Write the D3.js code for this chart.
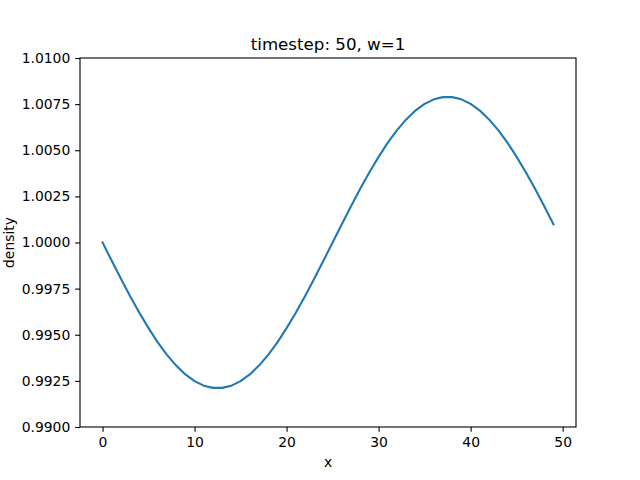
<!DOCTYPE html>
<html>
<head>
<meta charset="utf-8">
<script src="https://cdn.jsdelivr.net/npm/d3@7"></script>
<style>
  body { margin: 0; background: #fff; }
  svg { display: block; font-family: "DejaVu Sans", sans-serif; }
</style>
</head>
<body>
<svg id="chart" width="640" height="480"></svg>
<script>
const xValues = d3.range(0, 50);
const density = [
  1.00000, 0.99901, 0.99804, 0.99709, 0.99619, 0.99536, 0.99459, 0.99391, 0.99333, 0.99285,
  0.99249, 0.99224, 0.99212, 0.99212, 0.99224, 0.99249, 0.99285, 0.99333, 0.99391, 0.99459,
  0.99536, 0.99619, 0.99709, 0.99804, 0.99901, 1.00000, 1.00099, 1.00196, 1.00291, 1.00381,
  1.00464, 1.00541, 1.00609, 1.00667, 1.00715, 1.00751, 1.00776, 1.00788, 1.00788, 1.00776,
  1.00751, 1.00715, 1.00667, 1.00609, 1.00541, 1.00464, 1.00381, 1.00291, 1.00196, 1.00099
];
const xTicks = [0, 10, 20, 30, 40, 50];
const yTicks = [0.9900, 0.9925, 0.9950, 0.9975, 1.0000, 1.0025, 1.0050, 1.0075, 1.0100];
const titleText = "timestep: 50, w=1";
const xLabel = "x";
const yLabel = "density";

const svg = d3.select("#chart");
const L = 80, R = 576, T = 58, B = 427;
const tickLen = 4.86, tickPad = 4.86;

const x = d3.scaleLinear().domain([-2.45, 51.45]).range([L, R]);
const y = d3.scaleLinear().domain([0.99, 1.01]).range([B, T]);

// line
const line = d3.line().x((d, i) => x(xValues[i])).y(d => y(d));
svg.append("path")
  .datum(density)
  .attr("d", line)
  .attr("fill", "none")
  .attr("stroke", "#1f77b4")
  .attr("stroke-width", 2.08)
  .attr("stroke-linejoin", "round")
  .attr("stroke-linecap", "square");

// axes
const xAxis = d3.axisBottom(x).tickValues(xTicks).tickFormat(d3.format("d"))
  .tickSizeInner(tickLen).tickSizeOuter(0).tickPadding(tickPad);
const yAxis = d3.axisLeft(y).tickValues(yTicks).tickFormat(d3.format(".4f"))
  .tickSizeInner(tickLen).tickSizeOuter(0).tickPadding(tickPad);

const gx = svg.append("g").attr("transform", `translate(0,${B})`).call(xAxis);
const gy = svg.append("g").attr("transform", `translate(${L},0)`).call(yAxis);
[gx, gy].forEach(g => {
  g.select(".domain").remove();
  g.selectAll(".tick line").attr("stroke", "#000").attr("stroke-width", 1.1);
  g.selectAll(".tick text").attr("fill", "#000").style("font-size", "13.9px")
    .style("font-family", "'DejaVu Sans', sans-serif");
});
gx.selectAll(".tick text").attr("dy", "0.76em");

// frame
svg.append("rect")
  .attr("x", L).attr("y", T).attr("width", R - L).attr("height", B - T)
  .attr("fill", "none").attr("stroke", "#000").attr("stroke-width", 1.1);

// title
svg.append("text")
  .attr("x", (L + R) / 2).attr("y", 49.5)
  .attr("text-anchor", "middle")
  .style("font-size", "16.67px")
  .text(titleText);

// x label
svg.append("text")
  .attr("x", (L + R) / 2).attr("y", 467)
  .attr("text-anchor", "middle")
  .style("font-size", "13.9px")
  .text(xLabel);

// y label
svg.append("text")
  .attr("transform", `translate(14,${(T + B) / 2}) rotate(-90)`)
  .attr("text-anchor", "middle")
  .style("font-size", "13.9px")
  .text(yLabel);
</script>
</body>
</html>
